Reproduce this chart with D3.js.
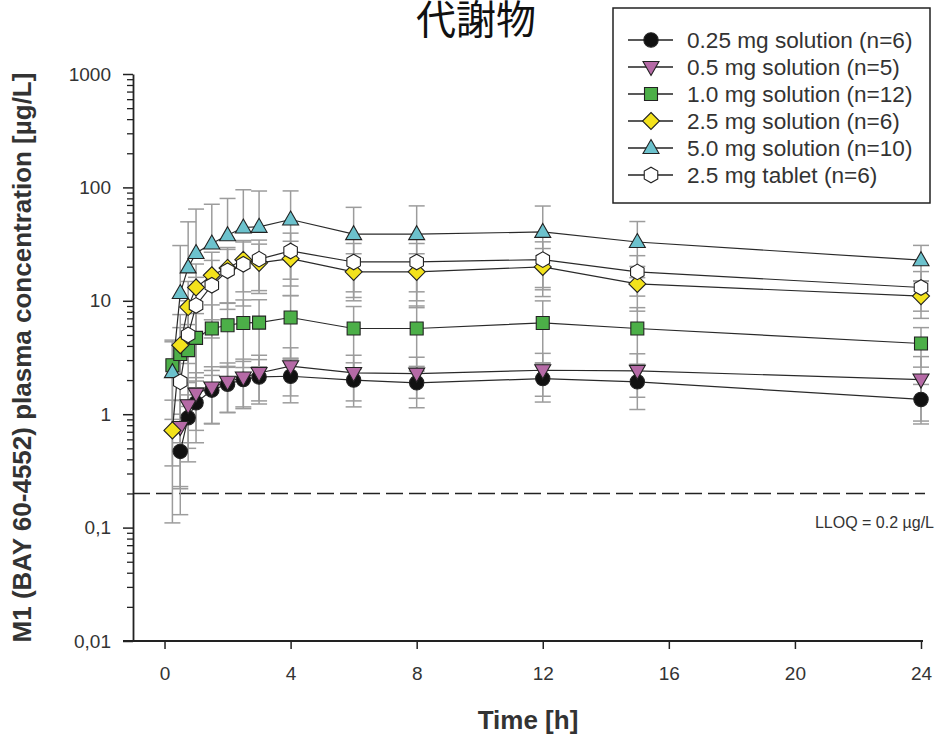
<!DOCTYPE html>
<html><head><meta charset="utf-8">
<script src="https://cdn.jsdelivr.net/npm/d3@7/dist/d3.min.js"></script>
<style>body{margin:0;background:#fff}svg{display:block}</style>
</head><body>
<svg id="c" width="937" height="735"></svg>
<script>
// ---- data ----
const times = [0.25, 0.5, 0.75, 1, 1.5, 2, 2.5, 3, 4, 6, 8, 12, 15, 24];
const seriesNames = ["0.25 mg solution (n=6)", "0.5 mg solution (n=5)", "1.0 mg solution (n=12)",
  "2.5 mg solution (n=6)", "5.0 mg solution (n=10)", "2.5 mg tablet (n=6)"];
const mean025 = [null, 0.47, 0.93, 1.26, 1.63, 1.84, 2.02, 2.13, 2.16, 2.0, 1.89, 2.06, 1.93, 1.35];
const sd025   = [null, 0.34, 0.55, 0.7, 0.8, 0.8, 0.9, 0.9, 0.9, 0.84, 0.75, 0.78, 0.83, 0.48];
const mean05  = [null, 0.77, 1.2, 1.52, 1.72, 1.93, 2.11, 2.31, 2.65, 2.31, 2.28, 2.44, 2.41, 2.02];
const sd05    = [null, 0.55, 0.7, 0.8, 0.9, 0.9, 0.95, 1.0, 1.2, 1.0, 0.9, 1.0, 1.0, 1.2];
const mean10  = [2.7, 3.4, 3.67, 4.71, 5.7, 6.09, 6.38, 6.42, 7.12, 5.7, 5.7, 6.38, 5.7, 4.2];
const sd10    = [1.8, 2.4, 2.5, 3.0, 3.5, 3.5, 3.8, 3.8, 4.0, 3.2, 3.3, 3.6, 3.0, 1.6];
const mean25  = [0.72, 4.06, 8.8, 13.1, 16.8, 19.5, 23.0, 21.6, 23.5, 18.0, 18.0, 19.9, 14.1, 11.0];
const sd25    = [0.61, 3.5, 6, 8, 10, 10, 11, 10, 10, 8, 8, 9, 6, 4];
const mean50  = [2.35, 11.7, 19.7, 26.4, 32.0, 37.9, 44.3, 44.9, 52.1, 38.7, 38.7, 40.5, 33.0, 22.8];
const sd50    = [2.0, 19, 30, 38, 39, 42, 51, 48, 41, 28, 30, 28, 17, 8];
const meanTab = [null, 1.93, 5.0, 9.1, 13.7, 18.4, 21.0, 23.3, 27.5, 22.0, 22.0, 23.1, 18.0, 13.1];
const sdTab   = [null, 1.7, 5, 7, 9, 10, 12, 11, 12, 10, 10, 10, 7, 5];
const xTicks = [0, 4, 8, 12, 16, 20, 24];
const yTicks = [0.01, 0.1, 1, 10, 100, 1000];
const yTickLabels = ["0,01", "0,1", "1", "10", "100", "1000"];
const lloq = 0.2;

// ---- styles ----
const styles = [
  {shape: "circle", fill: "#111111"},
  {shape: "tridown", fill: "#b56aa6"},
  {shape: "square", fill: "#4caf48"},
  {shape: "diamond", fill: "#f3e21c"},
  {shape: "triup", fill: "#6cc2cd"},
  {shape: "hexagon", fill: "#ffffff"}
];
const means = [mean025, mean05, mean10, mean25, mean50, meanTab];
const sds = [sd025, sd05, sd10, sd25, sd50, sdTab];

const svg = d3.select("#c");
const x = d3.scaleLinear().domain([-1, 24]).range([133, 921]);
const y = d3.scaleLog().domain([0.01, 1000]).range([641, 74]);
const FONT = "'Liberation Sans', Arial, sans-serif";

function shapePath(shape) {
  const p = d3.path();
  if (shape === "circle") { p.arc(0, 0, 7.2, 0, 2 * Math.PI); p.closePath(); }
  else if (shape === "square") { p.rect(-6.5, -6.5, 13, 13); }
  else if (shape === "diamond") { p.moveTo(0, -8.5); p.lineTo(8.5, 0); p.lineTo(0, 8.5); p.lineTo(-8.5, 0); p.closePath(); }
  else if (shape === "triup") { p.moveTo(0, -8.5); p.lineTo(8, 5.5); p.lineTo(-8, 5.5); p.closePath(); }
  else if (shape === "tridown") { p.moveTo(0, 8.5); p.lineTo(8, -5.5); p.lineTo(-8, -5.5); p.closePath(); }
  else if (shape === "hexagon") {
    for (let i = 0; i < 6; i++) {
      const a = Math.PI / 6 + i * Math.PI / 3;
      const px = 7.8 * Math.cos(a), py = 7.8 * Math.sin(a);
      if (i === 0) p.moveTo(px, py); else p.lineTo(px, py);
    }
    p.closePath();
  }
  return p.toString();
}

// title
svg.append("text").attr("x", 476).attr("y", 34).attr("text-anchor", "middle")
  .attr("font-family", "'Noto Sans CJK JP', 'Noto Sans CJK SC', sans-serif")
  .attr("font-size", 40).attr("fill", "#111").text("代謝物");

// axes
const gx = svg.append("g").attr("transform", "translate(0,641)")
  .call(d3.axisBottom(x).tickValues(xTicks).tickSize(8).tickPadding(18).tickSizeOuter(0));
gx.select(".domain").remove();
gx.selectAll("line").attr("stroke", "#222").attr("stroke-width", 1.5);
gx.selectAll("text").attr("font-family", FONT).attr("font-size", 19).attr("fill", "#333");
svg.append("line").attr("x1", 123).attr("x2", 923).attr("y1", 641).attr("y2", 641)
  .attr("stroke", "#222").attr("stroke-width", 1.8);

const minorTicks = [];
for (let e = -2; e < 3; e++) for (let m = 2; m <= 9; m++) minorTicks.push(m * Math.pow(10, e));
const gym = svg.append("g").attr("transform", "translate(133,0)")
  .call(d3.axisLeft(y).tickValues(minorTicks).tickSize(6).tickFormat(""));
gym.select(".domain").remove();
gym.selectAll("line").attr("stroke", "#222").attr("stroke-width", 1.3);
const gy = svg.append("g").attr("transform", "translate(133,0)")
  .call(d3.axisLeft(y).tickValues(yTicks).tickSize(10).tickPadding(12).tickSizeOuter(0)
    .tickFormat((d, i) => yTickLabels[i]));
gy.select(".domain").attr("stroke", "#222").attr("stroke-width", 1.8);
gy.selectAll("line").attr("stroke", "#222").attr("stroke-width", 1.5);
gy.selectAll("text").attr("font-family", FONT).attr("font-size", 19).attr("fill", "#333");

// axis titles
svg.append("text").attr("transform", "translate(31,357.5) rotate(-90)").attr("text-anchor", "middle")
  .attr("font-family", FONT).attr("font-weight", "bold").attr("font-size", 26).attr("fill", "#333")
  .text("M1 (BAY 60-4552) plasma concentration [µg/L]");
svg.append("text").attr("x", 528).attr("y", 729).attr("text-anchor", "middle")
  .attr("font-family", FONT).attr("font-weight", "bold").attr("font-size", 26).attr("fill", "#333")
  .text("Time [h]");

// LLOQ
svg.append("line").attr("x1", 133).attr("x2", 925).attr("y1", y(lloq)).attr("y2", y(lloq))
  .attr("stroke", "#222").attr("stroke-width", 1.6).attr("stroke-dasharray", "17,6");
svg.append("text").attr("x", 934).attr("y", 528).attr("text-anchor", "end")
  .attr("font-family", FONT).attr("font-size", 16).attr("fill", "#333").text("LLOQ = 0.2 µg/L");

// build data
const data = means.map((arr, s) => arr.map((v, i) => ({t: times[i], v: v, sd: sds[s][i]})).filter(d => d.v != null));

// error bars
const gErr = svg.append("g").attr("stroke", "#9c9c9c").attr("stroke-width", 1.5);
data.forEach(ser => ser.forEach(d => {
  const cx = x(d.t);
  const hi = d.v + d.sd, lo = d.v - d.sd;
  const yHi = y(hi), yLo = lo > 0 ? y(lo) : y(d.v);
  gErr.append("line").attr("x1", cx).attr("x2", cx).attr("y1", yHi).attr("y2", yLo);
  gErr.append("line").attr("x1", cx - 8).attr("x2", cx + 8).attr("y1", yHi).attr("y2", yHi);
  if (lo > 0) gErr.append("line").attr("x1", cx - 8).attr("x2", cx + 8).attr("y1", yLo).attr("y2", yLo);
}));

// lines
const line = d3.line().x(d => x(d.t)).y(d => y(d.v));
data.forEach(ser => svg.append("path").attr("d", line(ser)).attr("fill", "none")
  .attr("stroke", "#2a2a2a").attr("stroke-width", 1.2));

// markers
data.forEach((ser, s) => {
  const st = styles[s];
  svg.append("g").selectAll("path").data(ser).join("path")
    .attr("transform", d => `translate(${x(d.t)},${y(d.v)})`)
    .attr("d", shapePath(st.shape)).attr("fill", st.fill)
    .attr("stroke", "#222").attr("stroke-width", 1.1);
});

// legend
const lg = svg.append("g");
lg.append("rect").attr("x", 613).attr("y", 8).attr("width", 317).attr("height", 195)
  .attr("fill", "#fff").attr("stroke", "#222").attr("stroke-width", 1.5);
seriesNames.forEach((name, i) => {
  const yy = 40 + i * 27;
  lg.append("line").attr("x1", 628).attr("x2", 673).attr("y1", yy).attr("y2", yy)
    .attr("stroke", "#222").attr("stroke-width", 1.3);
  lg.append("path").attr("transform", `translate(651,${yy})`).attr("d", shapePath(styles[i].shape))
    .attr("fill", styles[i].fill).attr("stroke", "#222").attr("stroke-width", 1.1);
  lg.append("text").attr("x", 687).attr("y", yy).attr("dy", "0.36em")
    .attr("font-family", FONT).attr("font-size", 22.6).attr("fill", "#333").text(name);
});
</script>
</body></html>
